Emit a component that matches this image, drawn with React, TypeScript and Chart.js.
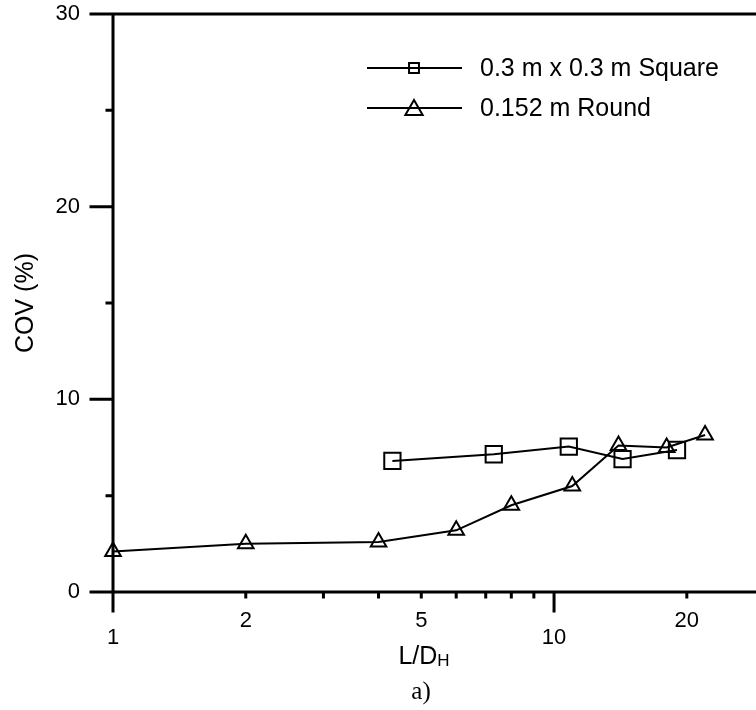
import React, { useEffect, useRef } from 'react';
import { Chart, registerables } from 'chart.js';

Chart.register(...registerables);

// ---- data ----
const squareX = [4.3, 7.3, 10.8, 14.3, 19];
const squareY = [6.8, 7.15, 7.55, 6.9, 7.37];
const roundX = [1, 2, 4, 6, 8, 11, 14, 18, 22];
const roundY = [2.1, 2.5, 2.6, 3.2, 4.5, 5.5, 7.6, 7.5, 8.15];
const seriesNames = ['0.3 m x 0.3 m Square', '0.152 m Round'];
const xMajorTicks = [1, 10];
const xMinorTicks = [2, 3, 4, 5, 6, 7, 8, 9, 20];
const xTickLabels = [1, 2, 5, 10, 20];
const yMajorTicks = [0, 10, 20, 30];
const yMinorTicks = [5, 15, 25];
const xMin = 1;
const xMax = 28.7;
const yMin = 0;
const yMax = 30;
const xTitle = 'L/D';
const xTitleSub = 'H';
const yTitle = 'COV (%)';
const caption = 'a)';

const SANS = '"Liberation Sans", Arial, sans-serif';
const SERIF = '"Liberation Serif", "Times New Roman", serif';

function drawMarker(ctx: CanvasRenderingContext2D, style: string, x: number, y: number, r: number) {
  ctx.beginPath();
  if (style === 'rect') {
    const s = r * Math.SQRT1_2;
    ctx.rect(x - s, y - s, 2 * s, 2 * s);
  } else {
    let rad = 0;
    ctx.moveTo(x + Math.sin(rad) * r, y - Math.cos(rad) * r);
    rad += (2 * Math.PI) / 3;
    ctx.lineTo(x + Math.sin(rad) * r, y - Math.cos(rad) * r);
    rad += (2 * Math.PI) / 3;
    ctx.lineTo(x + Math.sin(rad) * r, y - Math.cos(rad) * r);
    ctx.closePath();
  }
  ctx.stroke();
}

const framePlugin = {
  id: 'frame',
  afterDraw(chart: any) {
    const { ctx, chartArea: a, scales } = chart;
    const x = scales.x;
    const y = scales.y;
    ctx.save();
    ctx.strokeStyle = '#000';
    ctx.lineWidth = 3;
    ctx.lineCap = 'square';
    ctx.beginPath();
    ctx.moveTo(a.left, a.top);
    ctx.lineTo(a.left, a.bottom);
    ctx.moveTo(a.left, a.bottom);
    ctx.lineTo(a.right, a.bottom);
    ctx.moveTo(a.left, a.top);
    ctx.lineTo(a.right, a.top);
    yMajorTicks.forEach((v) => {
      const p = y.getPixelForValue(v);
      ctx.moveTo(a.left - 22, p);
      ctx.lineTo(a.left, p);
    });
    yMinorTicks.forEach((v) => {
      const p = y.getPixelForValue(v);
      ctx.moveTo(a.left - 6, p);
      ctx.lineTo(a.left, p);
    });
    xMajorTicks.forEach((v) => {
      const p = x.getPixelForValue(v);
      ctx.moveTo(p, a.bottom);
      ctx.lineTo(p, a.bottom + 19);
    });
    xMinorTicks.forEach((v) => {
      const p = x.getPixelForValue(v);
      ctx.moveTo(p, a.bottom);
      ctx.lineTo(p, a.bottom + 5);
    });
    ctx.stroke();

    // x axis title with subscript
    ctx.fillStyle = '#000';
    ctx.textBaseline = 'alphabetic';
    ctx.textAlign = 'left';
    ctx.font = `25px ${SANS}`;
    const w1 = ctx.measureText(xTitle).width;
    ctx.font = `17px ${SANS}`;
    const w2 = ctx.measureText(xTitleSub).width;
    const cx = 424;
    const x0 = cx - (w1 + w2) / 2;
    ctx.font = `25px ${SANS}`;
    ctx.fillText(xTitle, x0, 664);
    ctx.font = `17px ${SANS}`;
    ctx.fillText(xTitleSub, x0 + w1, 666);

    // caption
    ctx.font = `25px ${SERIF}`;
    ctx.textAlign = 'center';
    ctx.fillText(caption, 421, 699);

    // legend
    const styles = ['rect', 'triangle'];
    const radii = [7, 10];
    const rows = [68, 108];
    ctx.lineWidth = 2;
    ctx.lineCap = 'butt';
    rows.forEach((ry, i) => {
      ctx.beginPath();
      ctx.moveTo(367, ry);
      ctx.lineTo(462, ry);
      ctx.stroke();
      drawMarker(ctx, styles[i], 414, ry + (i === 1 ? 2 : 0), radii[i]);
      ctx.font = `25px ${SANS}`;
      ctx.textAlign = 'left';
      ctx.textBaseline = 'middle';
      ctx.fillText(seriesNames[i], 480, ry + 1);
    });
    ctx.restore();
  },
};

export default function App() {
  const ref = useRef<HTMLCanvasElement | null>(null);
  useEffect(() => {
    if (!ref.current) return;
    const chart = new Chart(ref.current, {
      type: 'line',
      data: {
        datasets: [
          {
            label: seriesNames[0],
            data: squareX.map((v, i) => ({ x: v, y: squareY[i] })),
            borderColor: '#000',
            borderWidth: 2,
            backgroundColor: 'transparent',
            pointStyle: 'rect',
            pointRadius: 11.5,
            pointBorderWidth: 2,
            pointBorderColor: '#000',
            pointBackgroundColor: 'transparent',
            tension: 0,
            clip: false as any,
          },
          {
            label: seriesNames[1],
            data: roundX.map((v, i) => ({ x: v, y: roundY[i] })),
            borderColor: '#000',
            borderWidth: 2,
            backgroundColor: 'transparent',
            pointStyle: 'triangle',
            pointRadius: 9,
            pointBorderWidth: 2,
            pointBorderColor: '#000',
            pointBackgroundColor: 'transparent',
            tension: 0,
            clip: false as any,
          },
        ],
      },
      options: {
        responsive: false,
        animation: false,
        devicePixelRatio: 1,
        layout: { autoPadding: false, padding: { top: 14, right: 0, bottom: 0, left: 0 } },
        plugins: { legend: { display: false }, tooltip: { enabled: false } },
        scales: {
          x: {
            type: 'logarithmic',
            min: xMin,
            max: xMax,
            grid: { display: false, drawTicks: false },
            border: { display: false },
            afterBuildTicks: (scale: any) => {
              scale.ticks = [...xMajorTicks, ...xMinorTicks]
                .sort((a, b) => a - b)
                .map((v) => ({ value: v }));
            },
            afterFit: (scale: any) => {
              scale.height = 118;
              scale.paddingLeft = 0;
              scale.paddingRight = 0;
              scale.paddingTop = 0;
              scale.paddingBottom = 0;
            },
            ticks: {
              autoSkip: false,
              maxRotation: 0,
              minRotation: 0,
              padding: 21,
              color: '#000',
              font: { family: SANS, size: 22, lineHeight: 0.75 },
              callback: (value: any) => {
                const v = Number(value);
                if (!xTickLabels.includes(v)) return '';
                if (xMajorTicks.includes(v)) return ['', String(v)];
                return String(v);
              },
            },
          },
          y: {
            type: 'linear',
            min: yMin,
            max: yMax,
            grid: { display: false, drawTicks: false },
            border: { display: false },
            afterBuildTicks: (scale: any) => {
              scale.ticks = yMajorTicks.map((v) => ({ value: v }));
            },
            afterFit: (scale: any) => {
              scale.width = 113;
              scale.paddingLeft = 0;
              scale.paddingRight = 0;
              scale.paddingTop = 0;
              scale.paddingBottom = 0;
            },
            ticks: {
              padding: 33,
              color: '#000',
              font: { family: SANS, size: 22 },
            },
            title: {
              display: true,
              text: yTitle,
              color: '#000',
              font: { family: SANS, size: 25 },
              padding: { top: 11, bottom: 0 },
            },
          },
        },
      },
      plugins: [framePlugin],
    } as any);
    return () => chart.destroy();
  }, []);
  return (
    <div style={{ position: 'absolute', left: 0, top: 0, width: 756, height: 710, background: '#fff' }}>
      <canvas ref={ref} width={756} height={710} />
    </div>
  );
}
